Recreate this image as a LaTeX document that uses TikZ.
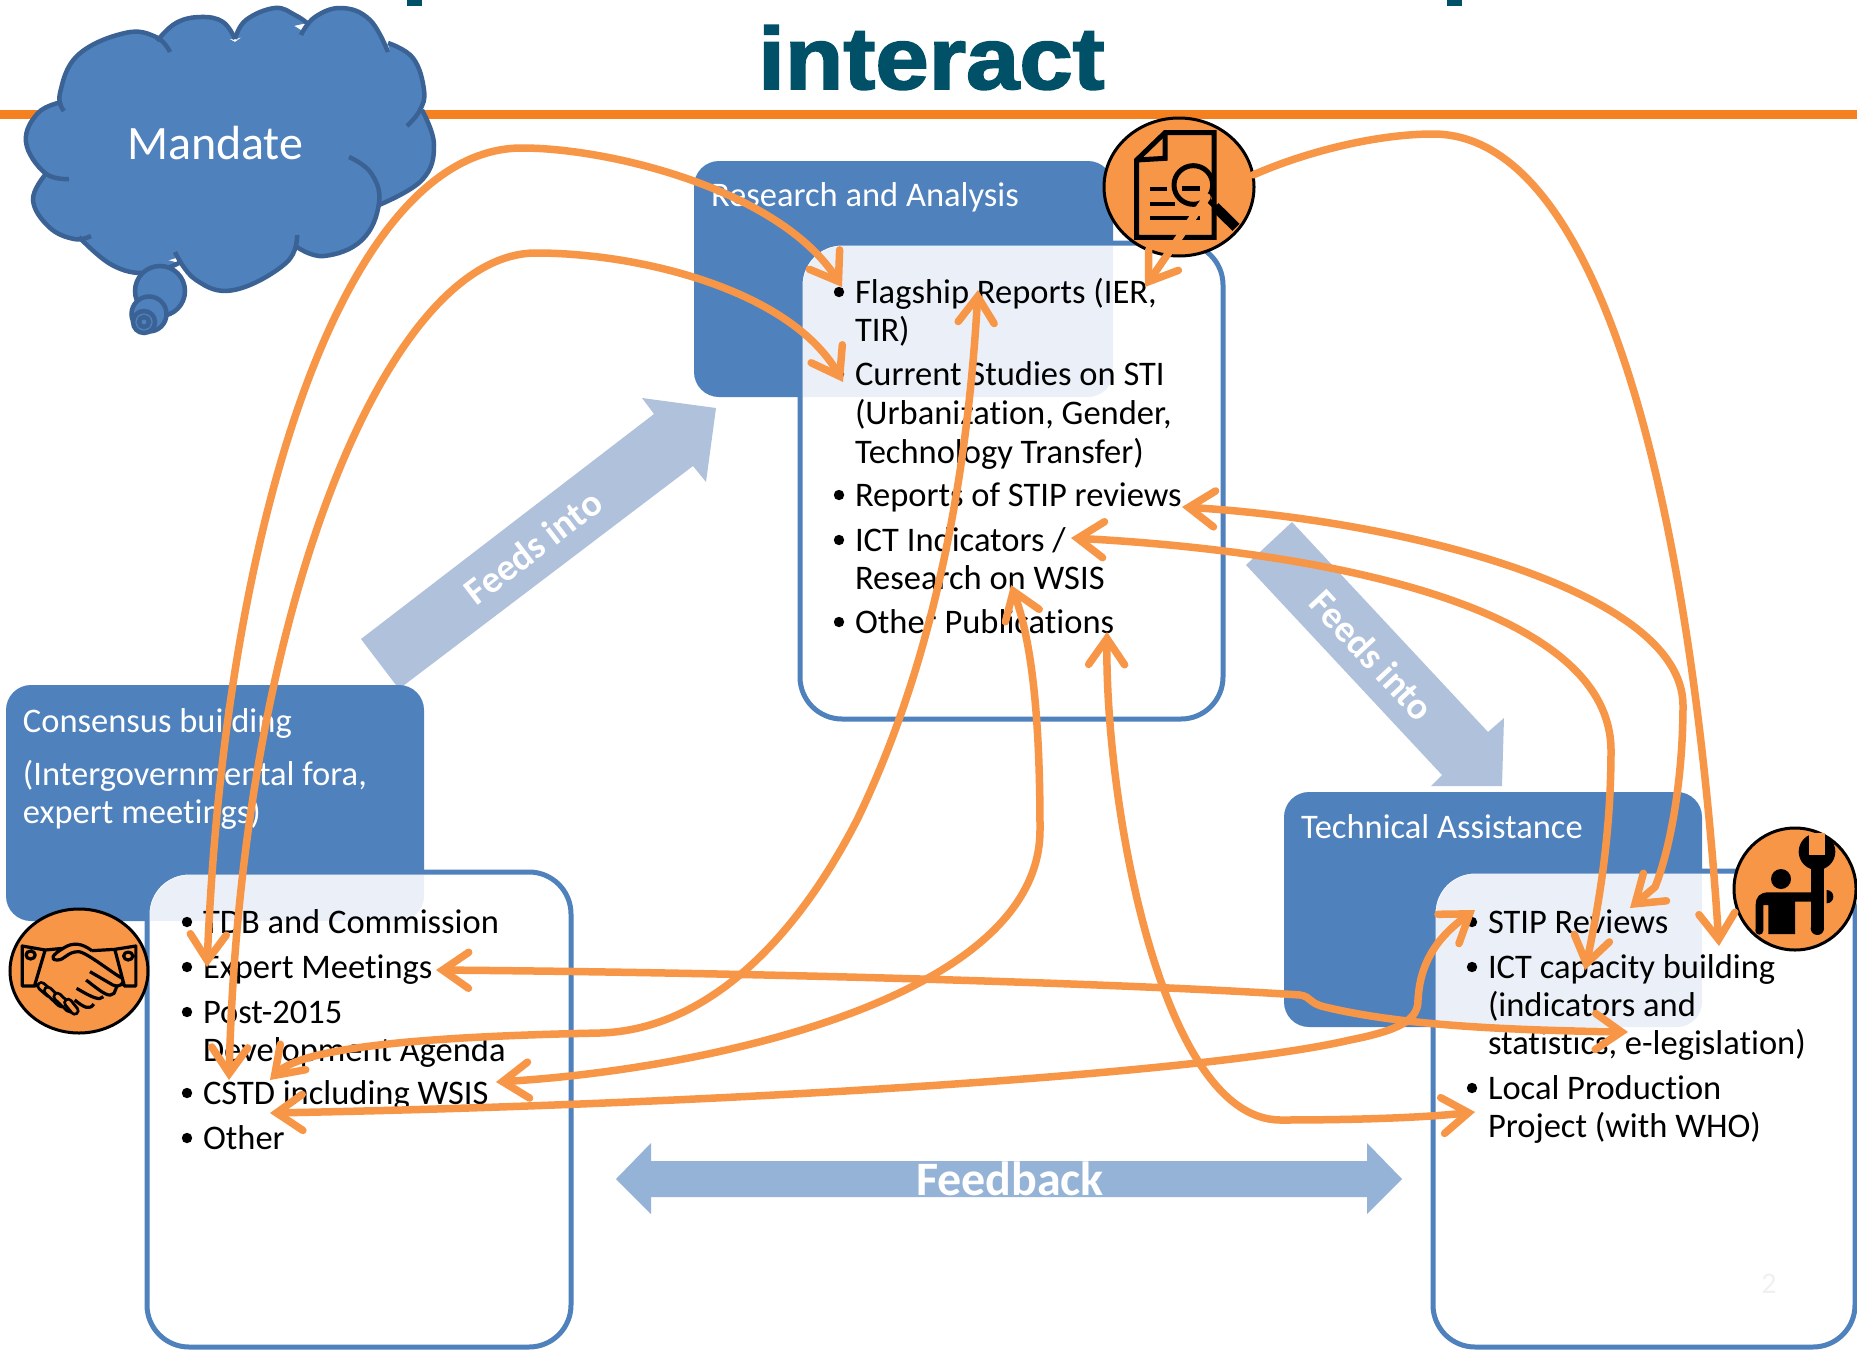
\documentclass[tikz,border=0pt]{standalone}
\usepackage{fontspec}
\setmainfont{Carlito}[Ligatures=NoCommon]
\newfontfamily\titlefont{Liberation Sans Bold}[FakeBold=2]
\usetikzlibrary{arrows.meta}
\definecolor{hdrblue}{HTML}{4F81BD}
\definecolor{cloudedge}{HTML}{3B6294}
\definecolor{lightpanel}{HTML}{EBF0F8}
\definecolor{conn}{HTML}{F79646}
\definecolor{rule}{HTML}{F58020}
\definecolor{titleblue}{HTML}{005068}
\definecolor{feedsblue}{HTML}{B0C1DC}
\definecolor{backblue}{HTML}{95B3D7}
\tikzset{
  listtxt/.style={anchor=base west,inner sep=0pt,outer sep=0pt,yshift=-1pt,text=black,font=\fontsize{34.5}{38}\selectfont},
  hdrtxt/.style={anchor=base west,inner sep=0pt,outer sep=0pt,yshift=-1pt,text=white,font=\fontsize{34.5}{38}\selectfont},
  feedstxt/.style={inner sep=0pt,text=white,font=\fontsize{38}{42}\selectfont\bfseries},
  connector/.style={draw=conn,line width=7.5pt,line cap=round,line join=round},
  twotips/.style={connector,{Straight Barb[length=26pt,width=36pt,line width=7.5pt,line cap=round,line join=miter]}-{Straight Barb[length=26pt,width=36pt,line width=7.5pt,line cap=round,line join=miter]}},
  onetip/.style={connector,-{Straight Barb[length=26pt,width=36pt,line width=7.5pt,line cap=round,line join=miter]}},
  iconcircle/.style={fill=conn,draw=black,line width=3pt},
  bubble/.style={fill=hdrblue,draw=cloudedge,line width=4.5pt},
  iconline/.style={draw=black,line width=5pt},
}
\newcommand\panelbox[8]{%
  \fill[hdrblue,rounded corners=25pt] (#1,#2) rectangle (#3,#4);
  \fill[white,rounded corners=42pt] (#5,#6) rectangle (#7,#8);
  \draw[hdrblue,line width=5pt,rounded corners=42pt] (#5,#6) rectangle (#7,#8);
  \begin{scope}
    \clip[rounded corners=25pt] (#1,#2) rectangle (#3,#4);
    \clip[rounded corners=40pt] (#5+3,#6+3) rectangle (#7-3,#8-3);
    \fill[lightpanel] (#5,#6) rectangle (#7,#8);
  \end{scope}
}
\newcommand\bul[2]{\fill[black] (#1,#2) circle[radius=5.2pt];}
\newcommand\cloudlobes[1]{%
  \path[#1] plot[smooth,tension=.7] coordinates {(64,111)(60,93)(78,55)(125,33)(156,37)(170,52)};
  \path[#1] plot[smooth,tension=.7] coordinates {(157,41)(176,23)(201,17)(223,22)(235,39)};
  \path[#1] plot[smooth,tension=.7] coordinates {(235,39)(246,20)(275,8)(295,15)(307,23)};
  \path[#1] plot[smooth,tension=.7] coordinates {(301,35)(315,17)(342,8)(370,20)(388,52)};
  \path[#1] plot[smooth,tension=.7] coordinates {(388,43)(413,58)(424,90)(420,110)(407,126)};
  \path[#1] plot[smooth,tension=.7] coordinates {(422,110)(434,145)(422,180)(379,205)};
  \path[#1] plot[smooth,tension=.7] coordinates {(349,157)(371,173)(379,203)(362,240)(324,256)(297,247)};
  \path[#1] plot[smooth,tension=.7] coordinates {(297,235)(286,263)(234,290)(196,280)(175,252)};
  \path[#1] plot[smooth,tension=.7] coordinates {(179,263)(147,273)(112,265)(79,237)};
  \path[#1] plot[smooth,tension=.7] coordinates {(91,236)(74,239)(49,227)(33,200)(45,175)};
  \path[#1] plot[smooth,tension=.7] coordinates {(69,179)(45,173)(26,142)(38,113)(62,102)};
}
\begin{document}
\begin{tikzpicture}[x=1pt,y=-1pt]
\useasboundingbox (0,0) rectangle (1857,1349);
\fill[white] (0,0) rectangle (1857,1349);

% title
\fill[titleblue] (407,0) rectangle (422,6);
\fill[titleblue] (1447,0) rectangle (1462,6);
\node[anchor=base west,inner sep=0pt,text=titleblue] (title) at (758,89)
  {\scalebox{1.09}[1]{\fontsize{88}{96}\selectfont\titlefont interact}};
\fill[rule] (0,110) rectangle (1857,119);

% cloud
\cloudlobes{fill=hdrblue}
\fill[hdrblue] (62,105)--(80,60)--(125,38)--(157,44)--(200,23)--(235,42)--(275,14)--(304,32)--(342,14)--(368,25)--(388,50)--(412,62)--(418,110)--(428,145)--(418,178)--(379,205)--(358,236)--(324,250)--(297,245)--(283,260)--(234,284)--(196,275)--(176,258)--(147,267)--(112,260)--(82,240)--(74,233)--(52,224)--(37,200)--(47,178)--(30,142)--(42,115)--cycle;
\cloudlobes{draw=cloudedge,line width=4.5pt,line cap=butt}
\path[bubble] (160,291) circle[radius=25pt];
\path[bubble] (149,314) circle[radius=17.5pt];
\path[bubble] (144,322) circle[radius=11pt];
\path[bubble] (144,322) circle[radius=5pt];
\node[hdrtxt,font=\fontsize{48}{52}\selectfont] (mandate) at (127,158) {Mandate};

% feeds arrows
\fill[feedsblue] (361,639)--(654,414)--(642,398)--(716,408)--(706,482)--(693,466)--(399,689)--cycle;
\fill[feedsblue] (1292,522)--(1488,732)--(1504,718)--(1502,786)--(1431,786)--(1442,775)--(1246,565)--cycle;

% panels
\panelbox{694}{161}{1113}{397}{800}{243}{1223}{719}
\panelbox{6}{685}{424}{921}{147}{872}{571}{1347}
\panelbox{1284}{792}{1702}{1027}{1433}{871}{1855}{1347}

\node[feedstxt,rotate=37.5] (feedsA) at (533,547) {Feeds into};
\node[feedstxt,rotate=-47] (feedsB) at (1372,655) {Feeds into};

% feedback
\fill[backblue] (616,1179)--(651,1143)--(651,1161)--(1367,1161)--(1367,1143)--(1402,1179)--(1367,1214)--(1367,1197)--(651,1197)--(651,1214)--cycle;
\node[anchor=base,inner sep=0pt,text=white,font=\fontsize{48}{52}\selectfont\bfseries] (feedback) at (1010,1195) {Feedback};
\node[anchor=base,inner sep=0pt,text=black!6,font=\fontsize{30}{34}\selectfont] (pageno) at (1769,1293) {2};

% header text
\node[hdrtxt] (hRes) at (711,205) {Research and Analysis};
\node[hdrtxt] (hCon) at (23,731) {Consensus building};
\node[hdrtxt] (hConB) at (23,784) {(Intergovernmental fora,};
\node[hdrtxt] (hConC) at (23,822) {expert meetings)};
\node[hdrtxt] (hTec) at (1301,837) {Technical Assistance};

% centre list
\bul{839}{292}\bul{839}{374}\bul{839}{495}\bul{839}{540}\bul{839}{622}
\node[listtxt] (flag) at (855,302) {Flagship Reports (IER,};
\node[listtxt] (tir) at (855,340) {TIR)};
\node[listtxt] (cur) at (855,384) {Current Studies on STI};
\node[listtxt] (urb) at (855,423) {(Urbanization, Gender,};
\node[listtxt] (tech) at (855,462) {Technology Transfer)};
\node[listtxt] (rep) at (855,505) {Reports of STIP reviews};
\node[listtxt] (ict) at (855,550) {ICT Indicators /};
\node[listtxt] (wsis) at (855,588) {Research on WSIS};
\node[listtxt] (oth) at (855,632) {Other Publications};

% consensus list
\bul{187}{922}\bul{187}{967}\bul{187}{1012}\bul{187}{1093}\bul{187}{1138}
\node[listtxt] (tdb) at (203,932) {TDB and Commission};
\node[listtxt] (exp) at (203,977) {Expert Meetings};
\node[listtxt] (post) at (203,1022) {Post-2015};
\node[listtxt] (dev) at (203,1060) {Development Agenda};
\node[listtxt] (cstd) at (203,1103) {CSTD including WSIS};
\node[listtxt] (othb) at (203,1148) {Other};

% TA list
\bul{1472}{922}\bul{1472}{967}\bul{1472}{1088}
\node[listtxt] (stip) at (1488,932) {STIP Reviews};
\node[listtxt] (cap) at (1488,977) {ICT capacity building};
\node[listtxt] (ind) at (1488,1015) {(indicators and};
\node[listtxt] (sta) at (1488,1053) {statistics, e-legislation)};
\node[listtxt] (loc) at (1488,1098) {Local Production};
\node[listtxt] (pro) at (1488,1136) {Project (with WHO)};

% research icon
\path[iconcircle] (1179,187) ellipse[x radius=75pt,y radius=69pt];
\begin{scope}[shift={(1050,100)},scale=1/3]
\draw[iconline,line join=miter] (260,180)--(345,98)--(492,98)--(492,412)--(260,412)--cycle;
\draw[iconline] (345,98)--(345,175)--(260,180);
\draw[black,line width=4pt] (300,268)--(350,268) (300,312)--(375,312) (300,355)--(450,355);
\fill[conn] (430,255) circle[radius=58];
\draw[iconline] (430,255) circle[radius=58];
\draw[black,line width=5pt] (395,265)--(450,265);
\draw[black,line width=5pt] (475,300)--(495,320);
\draw[black,line width=10pt] (495,320)--(558,382);
\end{scope}

% handshake icon
\path[iconcircle] (79,971) ellipse[x radius=69pt,y radius=62pt];
\begin{scope}[shift={(0,880)},xscale=1/2.613,yscale=1/3]
\draw[black,line width=3.2pt,line join=round]
  (58,198)--(118,210)--(90,318)--(58,318)--cycle
  (300,208)--(355,198)--(355,318)--(325,318)--cycle
  (80,225) circle[radius=12]
  (335,228) circle[radius=12]
  (118,210)--(165,205)
  (240,212)--(300,208)
  (165,205) .. controls (135,225) and (130,240) .. (150,240) .. controls (170,240) and (175,215) .. (205,215) .. controls (225,215) and (300,285) .. (320,295) .. controls (328,310) and (310,325) .. (295,315) -- (235,275)
  (165,205) .. controls (190,185) and (215,190) .. (240,212)
  (305,320)--(298,340) .. controls (285,352) and (275,345) .. (225,300)
  (270,350) .. controls (260,362) and (245,355) .. (200,325)
  (245,372) .. controls (235,390) and (222,385) .. (195,360)
  (90,318)--(105,315);
\foreach \a/\b/\c/\d in {108/318/130/340,125/332/160/370,150/350/182/385,178/368/195/392}{
  \draw[black,line width=10pt,line cap=round] (\a,\b)--(\c,\d);
  \draw[conn,line width=4pt,line cap=round] (\a,\b)--(\c,\d);
}
\end{scope}

% technician icon
\path[iconcircle] (1795,889) circle[radius=61pt];
\begin{scope}[shift={(1690,810)},scale=1/3]
\fill[black] (273,207) circle[radius=30];
\fill[black] (197,360)--(197,285) .. controls (197,260) and (210,247) .. (235,247)--(365,247)--(365,275)--(315,275)--(315,372)--(235,372)--(235,285)--(220,285)--(220,360)--cycle;
\fill[black] (208,362) circle[radius=12];
\fill[black] (362,130) rectangle (402,355);
\fill[black] (382,355) circle[radius=20];
\fill[black] (381,125) circle[radius=55];
\fill[conn] (358,70) rectangle (405,136);
\begin{scope}
\clip (410,230) rectangle (440,290);
\fill[black] (410,260) circle[radius=20];
\end{scope}
\end{scope}

% connector end points
\coordinate (pExpert) at (207,967);
\coordinate (pFlagL) at (842,287);
\coordinate (pCstdA) at (229,1080);
\coordinate (pCurL) at (843,382);
\coordinate (pCstdB) at (270,1080);
\coordinate (pFlagM) at (978,290);
\coordinate (pCstdR) at (496,1082);
\coordinate (pWsis) at (1011,585);
\coordinate (pExpR) at (436,970);
\coordinate (pSta) at (1628,1032);
\coordinate (pCstdC) at (270,1113);
\coordinate (pStipL) at (1475,910);
\coordinate (pOth) at (1107,632);
\coordinate (pPro) at (1475,1112);
\coordinate (pIct) at (1071,538);
\coordinate (pCap) at (1585,970);
\coordinate (pRep) at (1182,507);
\coordinate (pStipR) at (1630,908);
\coordinate (pIconA) at (1253,175);
\coordinate (pTaTip) at (1719,946);
\coordinate (pIconB) at (1207,197);
\coordinate (pFlagR) at (1145,287);

% connectors
\draw[twotips] (pExpert) .. controls (225,520) and (345,148) .. (522,148) .. controls (610,148) and (780,190) .. (pFlagL);
\draw[twotips] (pCstdA) .. controls (240,620) and (385,253) .. (536,253) .. controls (640,253) and (790,290) .. (pCurL);
\draw[twotips] (pCstdB) .. controls (300,1050) and (400,1037) .. (600,1033) .. controls (700,1030) and (790,950) .. (857,820) .. controls (920,690) and (965,520) .. (pFlagM);
\draw[twotips] (pCstdR) .. controls (700,1070) and (1040,1000) .. (1040,830) .. controls (1040,740) and (1035,650) .. (pWsis);
\draw[twotips] (pExpR) .. controls (800,973) and (1150,985) .. (1300,995) .. controls (1312,997) and (1308,1003) .. (1325,1007) .. controls (1400,1025) and (1500,1030) .. (pSta);
\draw[twotips] (pCstdC) .. controls (700,1105) and (1200,1075) .. (1350,1040) .. controls (1400,1030) and (1418,1020) .. (1418,1000) .. controls (1420,960) and (1440,935) .. (pStipL);
\draw[twotips] (pOth) .. controls (1105,800) and (1160,1119) .. (1280,1120) .. controls (1350,1120) and (1420,1118) .. (pPro);
\draw[twotips] (pIct) .. controls (1300,550) and (1610,600) .. (1611,750) .. controls (1611,830) and (1600,900) .. (pCap);
\draw[twotips] (pRep) .. controls (1400,520) and (1682,590) .. (1683,705) .. controls (1683,780) and (1670,850) .. (1655,887) -- (pStipR);
\draw[onetip] (pIconA) .. controls (1310,150) and (1380,134) .. (1433,134) .. controls (1600,134) and (1690,500) .. (pTaTip);
\draw[onetip] (pIconB) -- (pFlagR);
\end{tikzpicture}
\end{document}
